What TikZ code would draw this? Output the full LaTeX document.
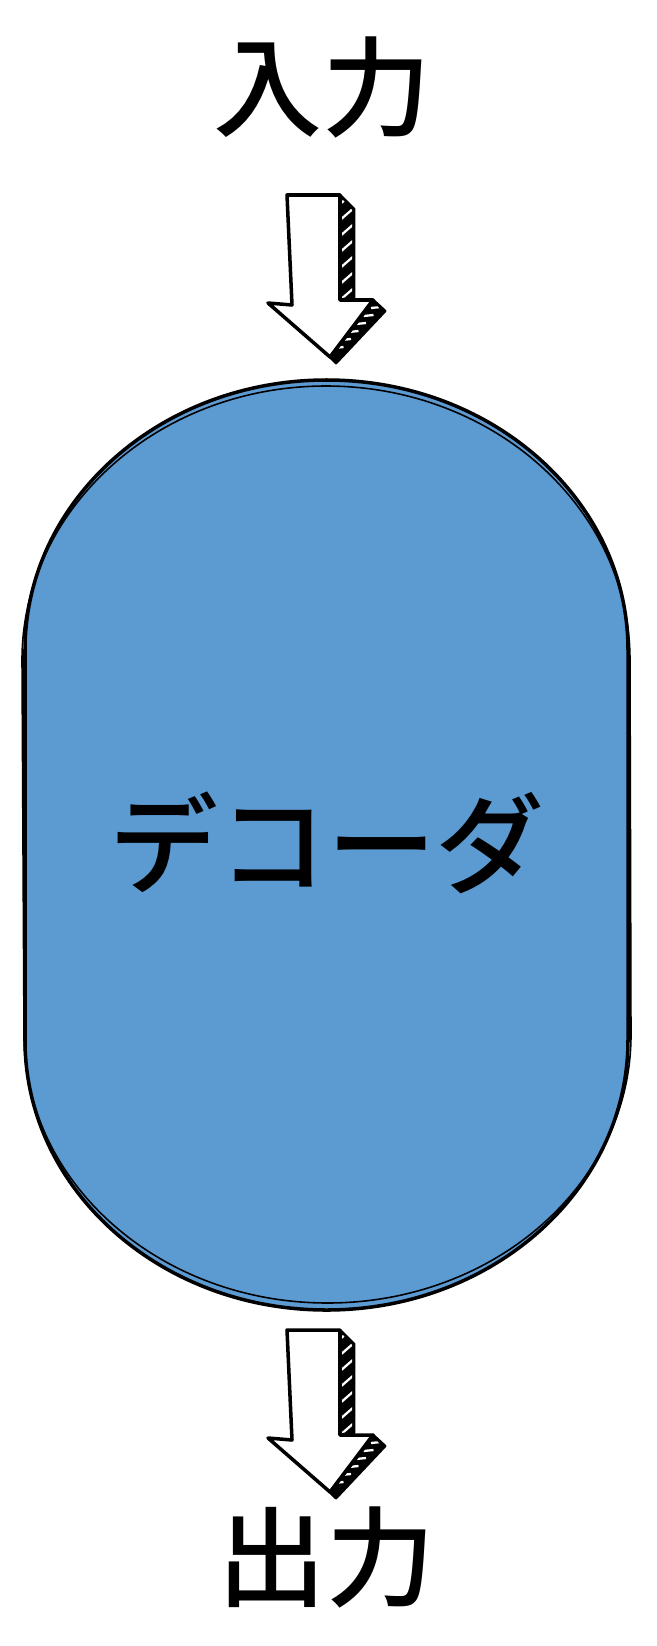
\documentclass[tikz,border=0pt]{standalone}
\usepackage{fontspec}
\setmainfont{Noto Sans CJK JP}[UprightFont={* Medium}]
\usetikzlibrary{positioning}
\definecolor{decblue}{RGB}{92,154,210}
\begin{document}
\begin{tikzpicture}[x=0.02cm,y=-0.02cm]
	\tikzset{word/.style={font=\fontsize{62}{70}\selectfont, inner sep=0pt}};
	\tikzset{outline/.style={draw=black, line width=2pt, line join=round}};
	\tikzset{sketch/.style={draw=black, line width=0.9pt}};
	\tikzset{blockarrow/.style={draw=black, fill=white, line width=2pt, line join=round}};
	\tikzset{hatch/.style={draw=black, fill=black, line width=1.6pt, line join=round}};
	\tikzset{slash/.style={draw=white, line width=1.3pt}};
	\useasboundingbox (0,0) rectangle (656,1646);
	% Place shape
	\draw[outline, fill=decblue] (25,650) arc (180:360:301.5 and 270) -- (628,1040) arc (0:180:301.5 and 270) -- cycle;
	\draw[sketch] (22,660) arc (180:360:304 and 274) -- (631,1035) arc (0:180:303.5 and 268) -- cycle;
	% Place nodes
	\node[word] (in) at (322,87) {入力};
	\node[word] (dec) at (327,843) {デコーダ};
	\node[word] (out) at (326,1557) {出力};
	% Place arrows
	\coordinate (a1) at (287,195);
	\coordinate (a2) at (287,1330);
	\foreach \c in {a1,a2}{
		\begin{scope}[shift={(\c)}]
		\draw[hatch] (53,0) -- (67,14) -- (67,103) -- (53,105) -- cycle;
		\begin{scope}
			\clip (55,4) -- (65,15) -- (65,101) -- (55,103) -- cycle;
			\foreach \s in {10,26,...,110} \draw[slash] (52,\s) -- (68,\s-14);
		\end{scope}
		\draw[hatch] (86,105) -- (98,116) -- (49,168) -- (43,162) -- cycle;
		\begin{scope}
			\clip (87,108) -- (95,116) -- (50,165) -- (46,161) -- cycle;
			\foreach \s in {0,1,...,5} \draw[slash] (84-7.5*\s,113+8*\s) -- (94-7.5*\s,112+8*\s);
		\end{scope}
		\draw[blockarrow] (0,0) -- (53,0) -- (53,105) -- (86,105) -- (43,162) -- (-19,108) -- (5,110) -- cycle;
		\end{scope}
	}
\end{tikzpicture}
\end{document}
